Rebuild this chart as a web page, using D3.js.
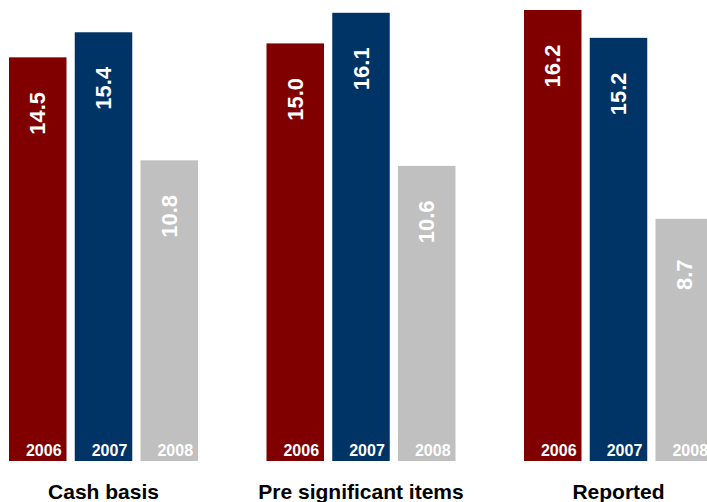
<!DOCTYPE html>
<html>
<head>
<meta charset="utf-8">
<script src="https://cdn.jsdelivr.net/npm/d3@7"></script>
<style>
  html, body { margin: 0; padding: 0; background: #fff; }
  svg { display: block; }
  text { font-family: "Liberation Sans", Arial, Helvetica, sans-serif; font-weight: bold; }
</style>
</head>
<body>
<svg id="chart" width="707" height="502"></svg>
<script>
// Earnings per share measures by year
const categories = ["Cash basis", "Pre significant items", "Reported"];
const years = ["2006", "2007", "2008"];
const values2006 = [14.5, 15.0, 16.2];
const values2007 = [15.4, 16.1, 15.2];
const values2008 = [10.8, 10.6, 8.7];
const yearColors = ["#800000", "#003366", "#c0c0c0"];

const seriesValues = [values2006, values2007, values2008];
const rows = [];
categories.forEach((cat, ci) => {
  years.forEach((yr, yi) => {
    rows.push({ cat, yr, yi, value: seriesValues[yi][ci] });
  });
});

const svg = d3.select("#chart");

const x0 = d3.scaleBand().domain(categories).range([9, 713]).paddingInner(0.266).paddingOuter(0);
const x1 = d3.scaleBand().domain(years).range([0, x0.bandwidth()]).paddingInner(0.1255).paddingOuter(0);
const y = d3.scaleLinear().domain([0, 16.2]).range([461, 10]);
const color = d3.scaleOrdinal().domain(years).range(yearColors);

const groups = svg.selectAll("g.group")
  .data(categories)
  .join("g")
  .attr("class", "group")
  .attr("transform", d => `translate(${x0(d)},0)`);

const bars = groups.selectAll("g.bar")
  .data(cat => rows.filter(r => r.cat === cat))
  .join("g")
  .attr("class", "bar");

bars.append("rect")
  .attr("x", d => x1(d.yr))
  .attr("y", d => y(d.value))
  .attr("width", x1.bandwidth())
  .attr("height", d => y(0) - y(d.value))
  .attr("fill", d => color(d.yr));

// value labels, rotated, near the top of each bar
bars.append("text")
  .attr("transform", d => `translate(${x1(d.yr) + x1.bandwidth() / 2},${y(d.value) + 56}) rotate(-90)`)
  .attr("text-anchor", "middle")
  .attr("dominant-baseline", "central")
  .attr("fill", "#fff")
  .style("font-size", "22px")
  .text(d => d.value.toFixed(1));

// year labels at the foot of each bar
bars.append("text")
  .attr("x", d => x1(d.yr) + x1.bandwidth() / 2 + 6)
  .attr("y", y(0) - 5)
  .attr("text-anchor", "middle")
  .attr("fill", "#fff")
  .style("font-size", "16px")
  .text(d => d.yr);

// category labels under each group
groups.append("text")
  .attr("x", x0.bandwidth() / 2)
  .attr("y", 499)
  .attr("text-anchor", "middle")
  .attr("fill", "#000")
  .style("font-size", "21px")
  .text(d => d);
</script>
</body>
</html>
